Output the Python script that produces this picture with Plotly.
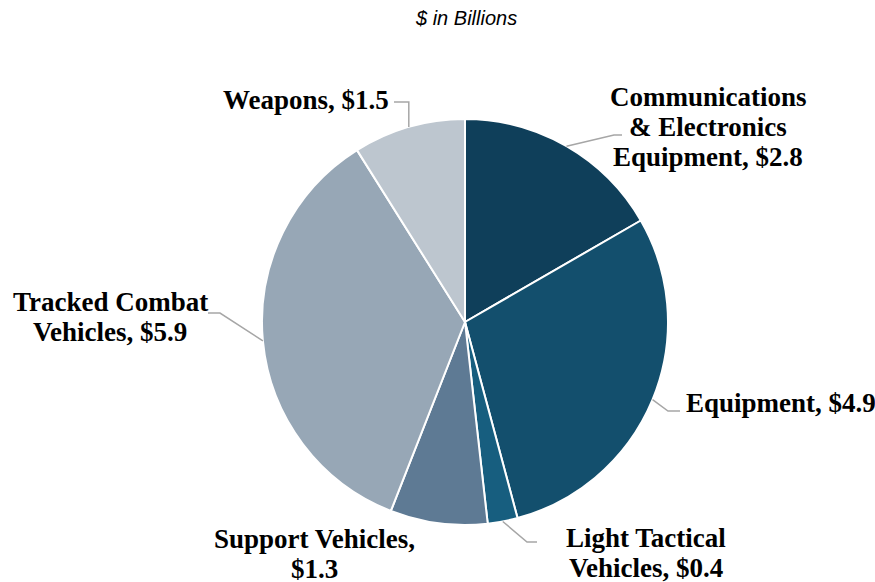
import math
import plotly.graph_objects as go

# Procurement categories, $ in billions (clockwise from 12 o'clock)
categories = [
    "Communications & Electronics Equipment",
    "Equipment",
    "Light Tactical Vehicles",
    "Support Vehicles",
    "Tracked Combat Vehicles",
    "Weapons",
]
values = [2.8, 4.9, 0.4, 1.3, 5.9, 1.5]
label_lines = [
    ["Communications", "& Electronics", "Equipment, $2.8"],
    ["Equipment, $4.9"],
    ["Light Tactical", "Vehicles, $0.4"],
    ["Support Vehicles,", "$1.3"],
    ["Tracked Combat", "Vehicles, $5.9"],
    ["Weapons, $1.5"],
]
colors = ["#0F3F5A", "#134F6D", "#175E7F", "#5E7A94", "#97A7B6", "#BDC6CF"]

W, H = 875, 582
CX, CY, R = 465, 322, 203  # pie centre and radius in pixels

fig = go.Figure()
fig.add_trace(go.Pie(
    labels=categories,
    values=values,
    sort=False,
    direction="clockwise",
    rotation=0,
    marker=dict(colors=colors, line=dict(color="white", width=2)),
    textinfo="none",
    hoverinfo="label+value",
    showlegend=False,
    domain=dict(x=[(CX - R) / W, (CX + R) / W], y=[1 - (CY + R) / H, 1 - (CY - R) / H]),
))


def px(x, y):
    return x / W, 1 - y / H


# Point on the rim at the middle of each slice
total = sum(values)
rim = []
acc = 0.0
for v in values:
    mid = (acc + v / 2) / total * 2 * math.pi
    rim.append((CX + R * math.sin(mid), CY - R * math.cos(mid)))
    acc += v

# Label text placement: (x, first-line y, x-anchor)
label_pos = [
    (708, 97, "center"),
    (684, 403, "left"),
    (646, 538, "center"),
    (314, 539, "center"),
    (110, 302, "center"),
    (391, 100, "right"),
]
LINE_STEP = 30

# Leader-line bends and ends: (elbow, end); None for no connector
leaders = [
    ((614, 135), (622, 135)),
    ((668, 411), (680, 411)),
    ((527, 542), (537, 542)),
    None,
    ((220, 313), (208, 313)),
    (None, (394, 102)),
]

for i, lines in enumerate(label_lines):
    lx, ly, anchor = label_pos[i]
    for k, t in enumerate(lines):
        x, y = px(lx, ly + k * LINE_STEP)
        fig.add_annotation(
            x=x, y=y, xref="paper", yref="paper",
            text=f"<b>{t}</b>", showarrow=False,
            xanchor=anchor, yanchor="middle",
            font=dict(family="Liberation Serif", size=27, color="#000000"),
        )
    if leaders[i] is None:
        continue
    elbow, end = leaders[i]
    sx, sy = rim[i]
    if elbow is None:
        elbow = (sx, end[1])
    pts = [px(sx, sy), px(*elbow), px(*end)]
    path = "M {} {} L {} {} L {} {}".format(*[c for p in pts for c in p])
    fig.add_shape(type="path", path=path, xref="paper", yref="paper",
                  line=dict(color="#A6A6A6", width=1.5))

# Units note at the top
tx, ty = px(466, 18)
fig.add_annotation(
    x=tx, y=ty, xref="paper", yref="paper",
    text="<i>$ in Billions</i>", showarrow=False,
    xanchor="center", yanchor="middle",
    font=dict(family="Liberation Sans", size=20, color="#000000"),
)

fig.update_layout(
    width=W, height=H,
    margin=dict(l=0, r=0, t=0, b=0),
    paper_bgcolor="white",
    plot_bgcolor="white",
)

fig.write_html("out.html")
